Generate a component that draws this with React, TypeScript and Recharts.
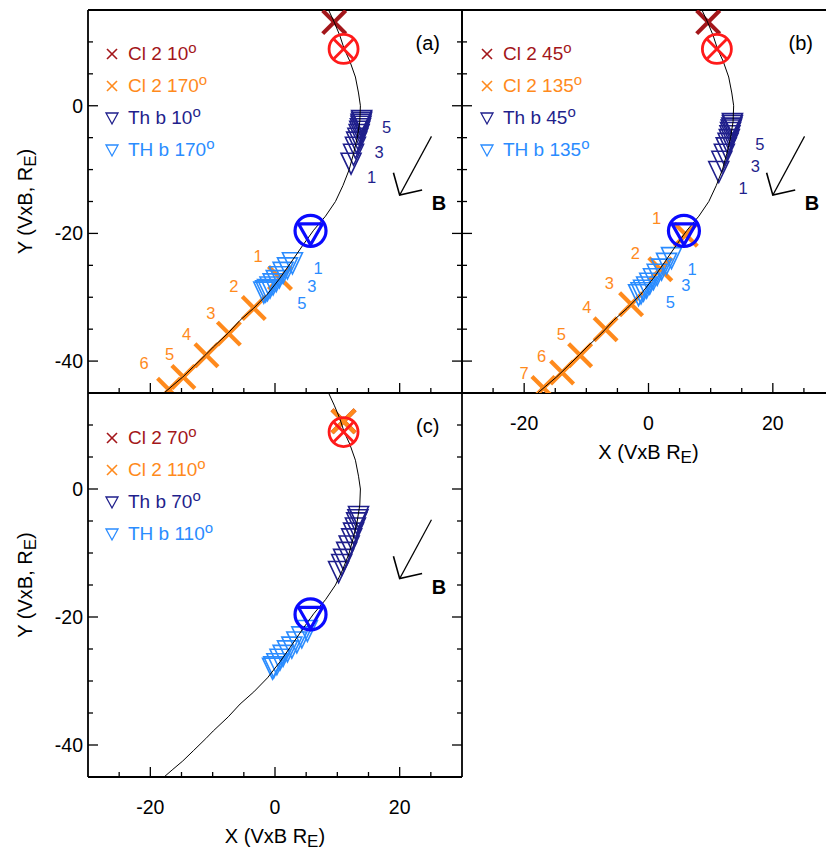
import { ScatterChart, Scatter, XAxis, YAxis, Legend, Label } from 'recharts';

const FONT = '"Liberation Sans", Arial, Helvetica, sans-serif';
const DRED = '#a3161a';
const ORANGE = '#ff8a1c';
const NAVY = '#1f1f8c';
const SKY = '#2a8cff';
const RING_RED = '#ff1a1a';
const RING_BLUE = '#0a0aff';

// magnetic field line (same in all panels)
const fieldLine = [
  { x: 8.6, y: 15 }, { x: 9.5, y: 13.1 }, { x: 10.4, y: 11.0 }, { x: 11.1, y: 8.9 },
  { x: 12.0, y: 7.0 }, { x: 12.9, y: 4.5 }, { x: 13.4, y: 2.0 }, { x: 13.7, y: 0 },
  { x: 13.6, y: -2.5 }, { x: 13.2, y: -5.0 }, { x: 12.6, y: -7.5 }, { x: 11.9, y: -10.0 },
  { x: 10.9, y: -12.5 }, { x: 9.7, y: -15.0 }, { x: 8.1, y: -17.3 }, { x: 6.2, y: -19.5 },
  { x: 4.5, y: -21.8 }, { x: 2.6, y: -24.5 }, { x: 0.8, y: -27.0 }, { x: -1.2, y: -29.5 },
  { x: -3.4, y: -31.7 }, { x: -5.6, y: -33.6 }, { x: -7.5, y: -35.6 }, { x: -9.9, y: -37.8 },
  { x: -11.1, y: -39.0 }, { x: -13.1, y: -40.9 }, { x: -14.8, y: -42.5 }, { x: -16.5, y: -43.9 },
  { x: -17.8, y: -45.0 },
];
const arrowShaft = [{ x: 25.1, y: -4.8 }, { x: 20.0, y: -14.0 }];
const arrowHead = [{ x: 19.0, y: -10.5 }, { x: 20.0, y: -14.0 }, { x: 23.6, y: -13.2 }];
const bTag = [{ x: 26.3, y: -15.3, t: 'B' }];
const redRing = [{ x: 11.0, y: 8.9 }];
const blueRing = [{ x: 5.7, y: -19.6 }];

const xTicks = [-25, -20, -15, -10, -5, 0, 5, 10, 15, 20, 25];
const yTicks = [-40, -35, -30, -25, -20, -15, -10, -5, 0, 5, 10];
const xMajor = [-20, 0, 20];
const yMajor = [-40, -20, 0];

// panel (a)
const namesA = ['Cl 2 10', 'Cl 2 170', 'Th b 10', 'TH b 170'];
const tagA = [{ x: 24.5, y: 9.9, t: '(a)' }];
const redA = [{ x: 9.5, y: 13.1 }];
const orangeA = [
  { x: 0.8, y: -27.0 }, { x: -3.4, y: -31.7 }, { x: -7.4, y: -35.7 },
  { x: -11.0, y: -39.1 }, { x: -14.7, y: -42.5 }, { x: -17.0, y: -44.5 },
];
const navyA = [
  { x: 13.9, y: -2.3 }, { x: 13.9, y: -2.6 }, { x: 13.8, y: -2.9 }, { x: 13.8, y: -3.2 },
  { x: 13.7, y: -3.6 }, { x: 13.6, y: -4.0 }, { x: 13.5, y: -4.5 }, { x: 13.3, y: -5.1 },
  { x: 13.1, y: -5.7 }, { x: 12.9, y: -6.5 }, { x: 12.6, y: -7.6 }, { x: 12.2, y: -9.0 },
];
const skyA = [
  { x: 2.8, y: -24.6 }, { x: 2.0, y: -25.4 }, { x: 1.3, y: -26.1 }, { x: 0.7, y: -26.8 },
  { x: 0.2, y: -27.4 }, { x: -0.3, y: -27.9 }, { x: -0.8, y: -28.4 }, { x: -1.2, y: -28.8 },
  { x: -1.5, y: -29.0 }, { x: -1.8, y: -29.2 },
];
const orangeNumsA = [
  { x: -2.7, y: -23.6, t: '1' }, { x: -6.6, y: -28.2, t: '2' }, { x: -10.3, y: -32.4, t: '3' },
  { x: -14.2, y: -35.8, t: '4' }, { x: -16.9, y: -38.9, t: '5' }, { x: -21.0, y: -40.3, t: '6' },
];
const navyNumsA = [{ x: 17.9, y: -3.4, t: '5' }, { x: 16.7, y: -7.2, t: '3' }, { x: 15.5, y: -11.2, t: '1' }];
const skyNumsA = [{ x: 6.9, y: -25.4, t: '1' }, { x: 5.9, y: -28.2, t: '3' }, { x: 4.3, y: -30.9, t: '5' }];

// panel (b)
const namesB = ['Cl 2 45', 'Cl 2 135', 'Th b 45', 'TH b 135'];
const tagB = [{ x: 24.5, y: 9.8, t: '(b)' }];
const redB = [{ x: 9.6, y: 13.1 }];
const orangeB = [
  { x: 6.0, y: -20.2 }, { x: 1.9, y: -25.6 }, { x: -2.8, y: -31.1 }, { x: -6.9, y: -35.0 },
  { x: -11.0, y: -39.1 }, { x: -13.9, y: -41.8 }, { x: -16.9, y: -44.2 },
];
const navyB = [
  { x: 13.5, y: -2.8 }, { x: 13.5, y: -3.1 }, { x: 13.4, y: -3.5 }, { x: 13.3, y: -3.8 },
  { x: 13.2, y: -4.2 }, { x: 13.1, y: -4.7 }, { x: 13.0, y: -5.3 }, { x: 12.8, y: -5.9 },
  { x: 12.5, y: -6.6 }, { x: 12.2, y: -7.6 }, { x: 11.8, y: -8.7 }, { x: 11.3, y: -10.3 },
];
const skyB = [
  { x: 3.7, y: -23.8 }, { x: 2.9, y: -24.7 }, { x: 2.1, y: -25.6 }, { x: 1.4, y: -26.4 },
  { x: 0.8, y: -27.1 }, { x: 0.2, y: -27.8 }, { x: -0.3, y: -28.4 }, { x: -0.8, y: -28.9 },
  { x: -1.2, y: -29.3 }, { x: -1.6, y: -29.6 },
];
const orangeNumsB = [
  { x: 1.3, y: -17.6, t: '1' }, { x: -2.1, y: -23.0, t: '2' }, { x: -6.3, y: -27.7, t: '3' },
  { x: -9.9, y: -31.5, t: '4' }, { x: -14.0, y: -35.8, t: '5' }, { x: -17.2, y: -39.2, t: '6' },
  { x: -20.0, y: -41.8, t: '7' },
];
const navyNumsB = [{ x: 17.9, y: -6.0, t: '5' }, { x: 17.2, y: -9.5, t: '3' }, { x: 15.2, y: -12.9, t: '1' }];
const skyNumsB = [{ x: 7.0, y: -25.5, t: '1' }, { x: 6.0, y: -28.1, t: '3' }, { x: 3.5, y: -30.7, t: '5' }];

// panel (c)
const namesC = ['Cl 2 70', 'Cl 2 110', 'Th b 70', 'TH b 110'];
const tagC = [{ x: 24.5, y: 9.8, t: '(c)' }];
const redC = [{ x: 11.0, y: 10.6 }];
const orangeC = [{ x: 11.0, y: 10.6 }];
const navyC = [
  { x: 13.4, y: -4.3 }, { x: 13.3, y: -4.8 }, { x: 13.1, y: -5.3 }, { x: 12.9, y: -6.1 },
  { x: 12.6, y: -6.9 }, { x: 12.3, y: -7.8 }, { x: 11.9, y: -8.9 }, { x: 11.5, y: -9.9 },
  { x: 11.0, y: -11.0 }, { x: 10.7, y: -11.8 }, { x: 10.2, y: -12.9 },
];
const skyC = [
  { x: 5.2, y: -22.1 }, { x: 4.3, y: -23.1 }, { x: 3.5, y: -23.9 }, { x: 2.7, y: -24.7 },
  { x: 2.0, y: -25.3 }, { x: 1.3, y: -26.0 }, { x: 0.8, y: -26.6 }, { x: 0.3, y: -27.3 },
  { x: -0.2, y: -27.8 }, { x: -0.4, y: -28.0 },
];

const noShape = () => <g />;

const crossShape = (color: string) => (p: any) => (
  <g stroke={color} strokeWidth={4.2}>
    <line x1={p.cx - 11.5} y1={p.cy - 11.5} x2={p.cx + 11.5} y2={p.cy + 11.5} />
    <line x1={p.cx - 11.5} y1={p.cy + 11.5} x2={p.cx + 11.5} y2={p.cy - 11.5} />
  </g>
);

const triShape = (color: string) => (p: any) => (
  <path
    d={`M${p.cx - 10},${p.cy - 10}L${p.cx + 10},${p.cy - 10}L${p.cx},${p.cy + 11}Z`}
    fill="none" stroke={color} strokeWidth={1.6}
  />
);

const redRingShape = (p: any) => (
  <g stroke={RING_RED} strokeWidth={2.8} fill="none">
    <circle cx={p.cx} cy={p.cy} r={14.5} />
    <line x1={p.cx - 9.5} y1={p.cy - 9.5} x2={p.cx + 9.5} y2={p.cy + 9.5} />
    <line x1={p.cx - 9.5} y1={p.cy + 9.5} x2={p.cx + 9.5} y2={p.cy - 9.5} />
  </g>
);

const blueRingShape = (p: any) => (
  <g stroke={RING_BLUE} strokeWidth={3.2} fill="none">
    <circle cx={p.cx} cy={p.cy} r={15.5} />
    <path d={`M${p.cx - 12},${p.cy - 7}L${p.cx + 12},${p.cy - 7}L${p.cx},${p.cy + 14}Z`} />
  </g>
);

const textShape = (color: string, size: number, bold = false) => (p: any) => (
  <text
    x={p.cx} y={p.cy} textAnchor="middle" dominantBaseline="central"
    fill={color} fontSize={size} fontWeight={bold ? 'bold' : 'normal'} fontFamily={FONT}
  >
    {p.payload?.t ?? p.t}
  </text>
);

const tickFn = (side: string, withText: boolean, hidden = false) => (p: any) => {
  if (hidden) return <g />;
  const v = p.payload.value;
  const { x, y } = p;
  const horizontal = side === 'bottom' || side === 'top';
  const major = (horizontal ? xMajor : yMajor).includes(v);
  const len = major ? 10 : 5;
  let line;
  if (side === 'bottom') line = <line x1={x} x2={x} y1={y} y2={y - len} />;
  else if (side === 'top') line = <line x1={x} x2={x} y1={y} y2={y + len} />;
  else if (side === 'left') line = <line x1={x} x2={x + len} y1={y} y2={y} />;
  else line = <line x1={x} x2={x - len} y1={y} y2={y} />;
  let label = null;
  if (withText && major) {
    label = side === 'bottom'
      ? <text x={x} y={y + 30} textAnchor="middle" dominantBaseline="central" fontSize={19.5} fontFamily={FONT} fill="#000">{v}</text>
      : <text x={x - 5} y={y} textAnchor="end" dominantBaseline="central" fontSize={19.5} fontFamily={FONT} fill="#000">{v}</text>;
  }
  return (
    <g>
      <g stroke="#000" strokeWidth={1.3}>{line}</g>
      {label}
    </g>
  );
};

const xTitle = (p: any) => {
  const vb = p.viewBox;
  return (
    <text x={vb.x + vb.width / 2} y={vb.y + 59} textAnchor="middle" dominantBaseline="central" fontSize={20} fontFamily={FONT} fill="#000">
      X (VxB R<tspan fontSize={17} dy={5}>E</tspan><tspan dy={-5}>)</tspan>
    </text>
  );
};

const yTitle = (p: any) => {
  const vb = p.viewBox;
  const cx = vb.x + vb.width - 63;
  const cy = vb.y + vb.height / 2;
  return (
    <text x={cx} y={cy} transform={`rotate(-90, ${cx}, ${cy})`} textAnchor="middle" dominantBaseline="central" fontSize={20} fontFamily={FONT} fill="#000">
      Y (VxB, R<tspan fontSize={17} dy={5}>E</tspan><tspan dy={-5}>)</tspan>
    </text>
  );
};

const legendContent = (names: string[]) => (props: any) => {
  const items = (props.payload || [])
    .filter((e: any) => e.type !== 'none' && names.includes(e.value))
    .sort((a: any, b: any) => names.indexOf(a.value) - names.indexOf(b.value));
  return (
    <div style={{ fontFamily: FONT, fontSize: 19 }}>
      {items.map((e: any, i: number) => (
        <div key={i} style={{ display: 'flex', alignItems: 'center', height: 32, color: e.color, whiteSpace: 'nowrap' }}>
          <svg width={16} height={16}>
            {e.type === 'cross' ? (
              <g stroke={e.color} strokeWidth={1.6}>
                <line x1={3} y1={3} x2={13} y2={13} />
                <line x1={3} y1={13} x2={13} y2={3} />
              </g>
            ) : (
              <path d="M2,3L14,3L8,14Z" fill="none" stroke={e.color} strokeWidth={1.3} />
            )}
          </svg>
          <span style={{ marginLeft: 8 }}>
            {e.value}
            <span style={{ fontSize: 15, position: 'relative', top: -7 }}>o</span>
          </span>
        </div>
      ))}
    </div>
  );
};

const axisLine = { stroke: '#000', strokeWidth: 1.8 };

interface PanelProps {
  w: number; h: number;
  margin: { top: number; left: number; right: number; bottom: number };
  names: string[];
  red: any[]; orange: any[]; navy: any[]; sky: any[];
  orangeNums: any[]; navyNums: any[]; skyNums: any[];
  tag: any[];
  xLabels: boolean; yLabels: boolean; rightTicks: boolean;
  legendTop: number; legendLeft: number;
}

// axes are 1px thick, so the margins below are the plot edges minus 1
function Panel(props: PanelProps) {
  const { w, h, margin, names } = props;
  return (
    <ScatterChart width={w} height={h} margin={margin} style={{ fontFamily: FONT }}>
      <XAxis xAxisId="x" dataKey="x" type="number" domain={[-30, 30]} ticks={xTicks} interval={0}
        allowDataOverflow height={1} tickSize={0} tickMargin={0} tickLine={false} axisLine={axisLine}
        tick={tickFn('bottom', props.xLabels)}>
        {props.xLabels && <Label content={xTitle} />}
      </XAxis>
      <XAxis xAxisId="xt" orientation="top" type="number" domain={[-30, 30]} ticks={xTicks} interval={0}
        allowDataOverflow height={1} tickSize={0} tickMargin={0} tickLine={false} axisLine={axisLine}
        tick={tickFn('top', false)} />
      <YAxis yAxisId="y" dataKey="y" type="number" domain={[-45, 15]} ticks={yTicks} interval={0}
        allowDataOverflow width={1} tickSize={0} tickMargin={0} tickLine={false} axisLine={axisLine}
        tick={tickFn('left', props.yLabels)}>
        {props.yLabels && <Label content={yTitle} />}
      </YAxis>
      <YAxis yAxisId="yr" orientation="right" type="number" domain={[-45, 15]} ticks={yTicks} interval={0}
        allowDataOverflow width={1} tickSize={0} tickMargin={0} tickLine={false} axisLine={axisLine}
        tick={tickFn('right', false, !props.rightTicks)} />

      <Scatter name={names[0]} xAxisId="x" yAxisId="y" data={props.red} fill={DRED} legendType="cross" shape={crossShape(DRED)} isAnimationActive={false} />
      <Scatter name={names[1]} xAxisId="x" yAxisId="y" data={props.orange} fill={ORANGE} legendType="cross" shape={crossShape(ORANGE)} isAnimationActive={false} />
      <Scatter name={names[2]} xAxisId="x" yAxisId="y" data={props.navy} fill={NAVY} legendType="triangle" shape={triShape(NAVY)} isAnimationActive={false} />
      <Scatter name={names[3]} xAxisId="x" yAxisId="y" data={props.sky} fill={SKY} legendType="triangle" shape={triShape(SKY)} isAnimationActive={false} />

      <Scatter xAxisId="x" yAxisId="y" data={fieldLine} line={{ stroke: '#000', strokeWidth: 1 }} lineType="joint" shape={noShape} legendType="none" isAnimationActive={false} />
      <Scatter xAxisId="x" yAxisId="y" data={redRing} shape={redRingShape} legendType="none" isAnimationActive={false} />
      <Scatter xAxisId="x" yAxisId="y" data={blueRing} shape={blueRingShape} legendType="none" isAnimationActive={false} />
      <Scatter xAxisId="x" yAxisId="y" data={arrowShaft} line={{ stroke: '#000', strokeWidth: 1.2 }} lineType="joint" shape={noShape} legendType="none" isAnimationActive={false} />
      <Scatter xAxisId="x" yAxisId="y" data={arrowHead} line={{ stroke: '#000', strokeWidth: 1.6 }} lineType="joint" shape={noShape} legendType="none" isAnimationActive={false} />
      <Scatter xAxisId="x" yAxisId="y" data={bTag} shape={textShape('#000', 20, true)} legendType="none" isAnimationActive={false} />
      <Scatter xAxisId="x" yAxisId="y" data={props.tag} shape={textShape('#000', 20)} legendType="none" isAnimationActive={false} />
      <Scatter xAxisId="x" yAxisId="y" data={props.orangeNums} shape={textShape(ORANGE, 16.5)} legendType="none" isAnimationActive={false} />
      <Scatter xAxisId="x" yAxisId="y" data={props.navyNums} shape={textShape(NAVY, 16.5)} legendType="none" isAnimationActive={false} />
      <Scatter xAxisId="x" yAxisId="y" data={props.skyNums} shape={textShape(SKY, 16.5)} legendType="none" isAnimationActive={false} />

      <Legend layout="horizontal" verticalAlign="middle" align="center" content={legendContent(names)}
        wrapperStyle={{ left: props.legendLeft, top: props.legendTop, width: 230, height: 130 }} />
    </ScatterChart>
  );
}

export default function App() {
  return (
    <div style={{ position: 'absolute', left: 0, top: 0, width: 826, height: 852, overflow: 'hidden', background: '#fff', fontFamily: FONT }}>
      <div style={{ position: 'absolute', left: 0, top: 0 }}>
        <Panel w={470} h={400} margin={{ top: 9, left: 87, right: 7, bottom: 6 }} names={namesA}
          red={redA} orange={orangeA} navy={navyA} sky={skyA}
          orangeNums={orangeNumsA} navyNums={navyNumsA} skyNums={skyNumsA} tag={tagA}
          xLabels={false} yLabels={true} rightTicks={true} legendLeft={104} legendTop={38} />
      </div>
      <div style={{ position: 'absolute', left: 454, top: 0 }}>
        <Panel w={390} h={470} margin={{ top: 9, left: 7, right: 8, bottom: 76 }} names={namesB}
          red={redB} orange={orangeB} navy={navyB} sky={skyB}
          orangeNums={orangeNumsB} navyNums={navyNumsB} skyNums={skyNumsB} tag={tagB}
          xLabels={true} yLabels={false} rightTicks={false} legendLeft={25} legendTop={38} />
      </div>
      <div style={{ position: 'absolute', left: 0, top: 386 }}>
        <Panel w={470} h={466} margin={{ top: 6, left: 87, right: 7, bottom: 74 }} names={namesC}
          red={redC} orange={orangeC} navy={navyC} sky={skyC}
          orangeNums={[]} navyNums={[]} skyNums={[]} tag={tagC}
          xLabels={true} yLabels={true} rightTicks={true} legendLeft={104} legendTop={36} />
      </div>
    </div>
  );
}
